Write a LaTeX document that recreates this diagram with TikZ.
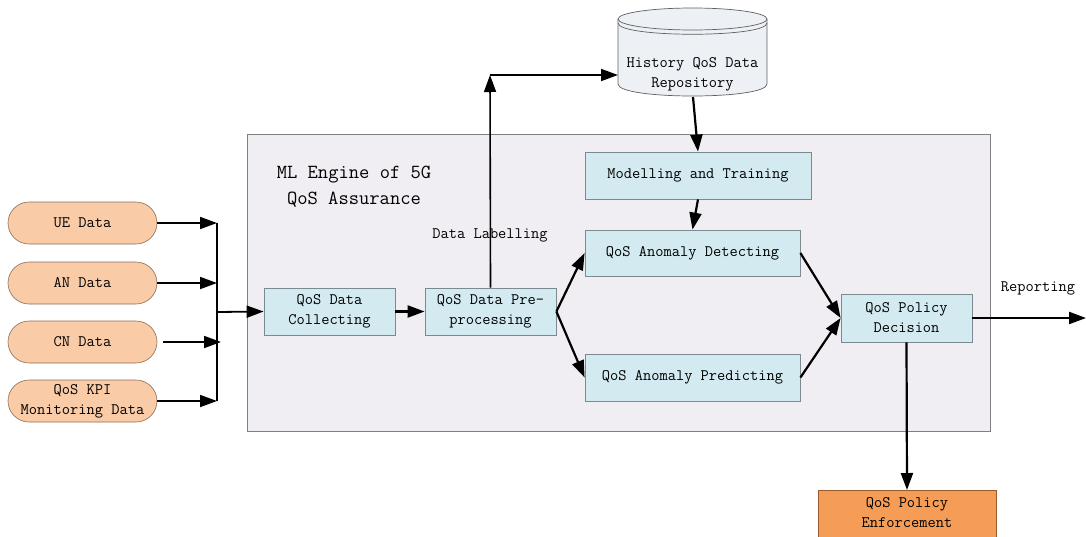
\documentclass[tikz,border=0pt]{standalone}
\usetikzlibrary{arrows.meta}
\definecolor{pillfill}{HTML}{F9CBA7}
\definecolor{pillline}{HTML}{8C6E58}
\definecolor{boxfill}{HTML}{D2EAF0}
\definecolor{boxline}{HTML}{7A8A90}
\definecolor{engfill}{HTML}{F0EEF3}
\definecolor{engline}{HTML}{808080}
\definecolor{repofill}{HTML}{EDF0F5}
\definecolor{repoline}{HTML}{606060}
\definecolor{enffill}{HTML}{F59D56}
\definecolor{enfline}{HTML}{9C5A2C}
\begin{document}
\begin{tikzpicture}[x=1pt,y=-1pt,
  font=\ttfamily\fontsize{16}{20}\selectfont,
  pill/.style={draw=pillline, fill=pillfill, rounded corners=21pt, minimum width=149pt, minimum height=42pt, inner sep=0pt, align=center, line width=0.6pt},
  bluebox/.style={draw=boxline, fill=boxfill, minimum height=47pt, inner sep=0pt, align=center, line width=0.8pt},
  arr/.style={-{Triangle[length=17pt,width=12pt]}, line width=2.2pt},
  bus/.style={line width=1.6pt},
]
\useasboundingbox (0,0) rectangle (1086,536);
\clip (0,0) rectangle (1086,536);

% engine box
\node[draw=engline, fill=engfill, minimum width=743pt, minimum height=297pt, inner sep=0pt, anchor=north west, line width=0.8pt] (engine) at (247,134) {};
\node[font=\ttfamily\fontsize{20}{26}\selectfont, align=center] (title) at (354,187) {ML Engine of 5G\\QoS Assurance};

% inputs
\node[pill] (ue) at (82.5,223) {UE Data};
\node[pill] (an) at (82.5,283) {AN Data};
\node[pill] (cn) at (82.5,342) {CN Data};
\node[pill] (kpi) at (82.5,401) {QoS KPI\\Monitoring Data};

\coordinate (bt) at (217,223);
\coordinate (bb) at (217,401);
\coordinate (bm) at (217,283);
\coordinate (busout) at (217,312);
\coordinate (cnstart) at (163,342);
\coordinate (cnend) at (221,342);

% processing boxes
\node[bluebox, minimum width=131pt] (collect) at (329.5,311.5) {QoS Data\\Collecting};
\node[bluebox, minimum width=131pt] (pre) at (490.5,311.5) {QoS Data Pre-\\processing};
\node[bluebox, minimum width=226pt] (model) at (698,175.5) {Modelling and Training};
\node[bluebox, minimum width=215pt, minimum height=46pt] (detect) at (692.5,253) {QoS Anomaly Detecting};
\node[bluebox, minimum width=215pt] (predict) at (692.5,377.5) {QoS Anomaly Predicting};
\node[bluebox, minimum width=131pt, minimum height=48pt] (decision) at (906.5,318) {QoS Policy\\Decision};
\node[draw=enfline, fill=enffill, minimum width=178pt, minimum height=60pt, inner sep=0pt, anchor=north, line width=0.8pt, align=center, text depth=0pt] (enforce) at (907,490) {};
\node[align=center] (enftext) at (907,513) {QoS Policy\\Enforcement};

% repository cylinder
\fill[repofill] (618,19) -- (618,84) .. controls (618,100) and (767,100) .. (767,84) -- (767,19) -- cycle;
\draw[repoline, line width=0.7pt] (618,19) -- (618,84) .. controls (618,100) and (767,100) .. (767,84) -- (767,19);
\draw[repoline, fill=repofill, line width=0.7pt] (692.5,19) ellipse [x radius=74.5pt, y radius=11pt];
\draw[repoline, line width=0.7pt] (618,23) .. controls (618,38) and (767,38) .. (767,23);
\node[minimum width=149pt, minimum height=89pt, inner sep=0pt] (repo) at (692.5,52.5) {};
\node[align=center] (repotext) at (692.5,74) {History QoS Data\\Repository};

% labels
\node (lab) at (490,235) {Data Labelling};
\node (rep) at (1038,288) {Reporting};

% connectors: inputs
\draw[bus] (bt) -- (bb);
\draw[arr, line width=1.8pt] (ue.east) -- (bt);
\draw[arr, line width=1.8pt] (an.east) -- (bm);
\draw[arr, line width=1.8pt] (cnstart) -- (cnend);
\draw[arr, line width=1.8pt] (kpi.east) -- (bb);
\draw[arr, line width=1.8pt] (busout) -- (collect.west);

% connectors: processing
\draw[arr] (collect.east) -- (pre.west);
\coordinate (corner) at (490,75);
\coordinate (repoin) at (618,75);
\coordinate (repoout) at (693,97);
\draw[arr, line width=1.6pt] (pre.north) -- (corner);
\draw[arr, line width=1.8pt] (corner) -- (repoin);
\draw[arr] (repoout) -- (model.north);
\draw[arr] (model.south) -- (detect.north);
\draw[arr] (pre.east) -- (detect.west);
\draw[arr] (pre.east) -- (predict.west);
\draw[arr] (detect.east) -- (decision.west);
\draw[arr] (predict.east) -- (decision.west);
\coordinate (repend) at (1086,318);
\draw[arr] (decision.east) -- (repend);
\draw[arr] (decision.south) -- (enforce.north);
\end{tikzpicture}
\end{document}
